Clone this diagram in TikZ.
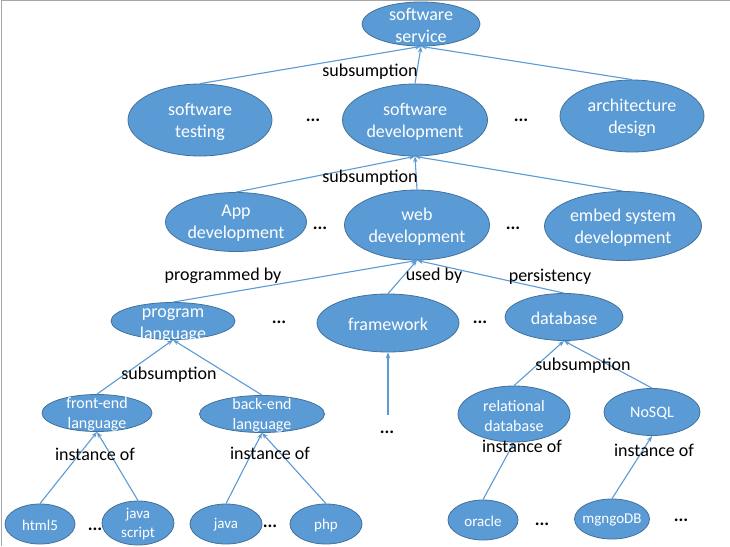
\documentclass[tikz,border=0pt]{standalone}
\usepackage{fontspec}
\setmainfont{Carlito}
\usetikzlibrary{shapes.geometric,arrows.meta}
\definecolor{nodefill}{HTML}{5B9BD5}
\definecolor{nodeline}{HTML}{41719C}
\definecolor{edgeblue}{HTML}{5B9BD5}
\begin{document}
\begin{tikzpicture}[x=1pt,y=-1pt,
  ell/.style 2 args={shape=ellipse, fill=nodefill, draw=nodeline, line width=0.8pt,
    minimum width=#1, minimum height=#2, inner sep=0pt},
  nt/.style={text=white, align=center, font=\fontsize{18}{22}\selectfont, inner sep=0pt, yshift=-1.5pt},
  nts/.style={text=white, align=center, font=\fontsize{16}{20}\selectfont, inner sep=0pt, yshift=-1.5pt},
  ntl/.style={text=white, align=center, font=\fontsize{15}{19}\selectfont, inner sep=0pt, yshift=-1pt},
  elab/.style={text=black, font=\fontsize{18}{22}\selectfont, inner sep=0pt},
  dots/.style={text=black, font=\fontsize{18}{22}\selectfont\bfseries, inner sep=0pt},
  conn/.style={draw=edgeblue, line width=1.1pt, -{Stealth[length=6pt,width=4.5pt]}}
]
\useasboundingbox (0,0) rectangle (730,546);
\fill[white] (0,0) rectangle (730,546);
\draw[gray!70, line width=1pt] (1,546) -- (1,0.5) -- (730,0.5);

% level 0
\node[ell={118}{44}, label={[nt]center:software\\service}] (ss) at (421,24) {};
% level 1
\node[ell={144}{72}, label={[nt]center:software\\testing}] (st) at (200,120) {};
\node[ell={145}{72}, label={[nt]center:software\\development}] (sd) at (415,120) {};
\node[ell={144}{72}, label={[nt]center:architecture\\design}] (ad) at (632,116) {};
% level 2
\node[ell={141}{59}, label={[nt]center:App\\development}] (app) at (236,222) {};
\node[ell={145}{70}, label={[nt]center:web\\development}] (web) at (417,225) {};
\node[ell={157}{69}, label={[nt]center:embed system\\development}] (emb) at (623,226) {};
% level 3
\node[ell={124}{37}, label={[nt,yshift=-3pt]center:program\\language}] (pl) at (173,321) {};
\node[ell={142}{58}, label={[nt]center:framework}] (fw) at (388,323) {};
\node[ell={118}{47}, label={[nt]center:database}] (db) at (564,317) {};
% level 4
\node[ell={110}{37}, label={[nts]center:front-end\\language}] (fe) at (97,413) {};
\node[ell={125}{37}, label={[nts]center:back-end\\language}] (be) at (262,414) {};
\node[ell={112}{56}, label={[nts]center:relational\\database}] (rd) at (514,414) {};
\node[ell={96}{47}, label={[nts]center:NoSQL}] (ns) at (652,412) {};
% level 5
\node[ell={70}{40}, label={[ntl]center:html5}] (h5) at (40,524) {};
\node[ell={72}{44}, label={[ntl]center:java\\script}] (js) at (138,523) {};
\node[ell={72}{40}, label={[ntl]center:java}] (jv) at (226,524) {};
\node[ell={72}{40}, label={[ntl]center:php}] (php) at (326,524) {};
\node[ell={70}{40}, label={[ntl]center:oracle}] (or) at (483,520) {};
\node[ell={75}{40}, label={[ntl]center:mgngoDB}] (mg) at (612,519) {};

\coordinate (fwin) at (388,415);

% connectors
\draw[conn] (st.north) -- (ss.south);
\draw[conn] (sd.north) -- (ss.south);
\draw[conn] (ad.north) -- (ss.south);
\draw[conn] (app.north) -- (sd.south);
\draw[conn] (web.north) -- (sd.south);
\draw[conn] (emb.north) -- (sd.south);
\draw[conn] (pl.north) -- (web.south);
\draw[conn] (fw.north) -- (web.south);
\draw[conn] (db.north) -- (web.south);
\draw[conn] (fe.north) -- (pl.south);
\draw[conn] (be.north) -- (pl.south);
\draw[conn] (fwin) -- (fw.south);
\draw[conn] (rd.north) -- (db.south);
\draw[conn] (ns.north) -- (db.south);
\draw[conn] (h5.north) -- (fe.south);
\draw[conn] (js.north) -- (fe.south);
\draw[conn] (jv.north) -- (be.south);
\draw[conn] (php.north) -- (be.south);
\draw[conn] (or.north) -- (rd.south);
\draw[conn] (mg.north) -- (ns.south);

% edge labels
\node[elab] (l1) at (370,72) {subsumption};
\node[elab] (l2) at (370,178) {subsumption};
\node[elab] (l3) at (223,276) {programmed by};
\node[elab] (l4) at (434,276) {used by};
\node[elab] (l5) at (550,277) {persistency};
\node[elab] (l6) at (169,375) {subsumption};
\node[elab] (l7) at (583,366) {subsumption};
\node[elab] (l8) at (95,454) {instance of};
\node[elab] (l9) at (270,453) {instance of};
\node[elab] (l10) at (522,446) {instance of};
\node[elab] (l11) at (654,450) {instance of};

% ellipses
\node[dots] (d1) at (313,120) {...};
\node[dots] (d2) at (521,120) {...};
\node[dots] (d3) at (320,228) {...};
\node[dots] (d4) at (513,228) {...};
\node[dots] (d5) at (279,322) {...};
\node[dots] (d6) at (480,322) {...};
\node[dots] (d7) at (387,432) {...};
\node[dots] (d8) at (95,529) {...};
\node[dots] (d9) at (270,526) {...};
\node[dots] (d10) at (542,524) {...};
\node[dots] (d11) at (681,520) {...};
\end{tikzpicture}
\end{document}
